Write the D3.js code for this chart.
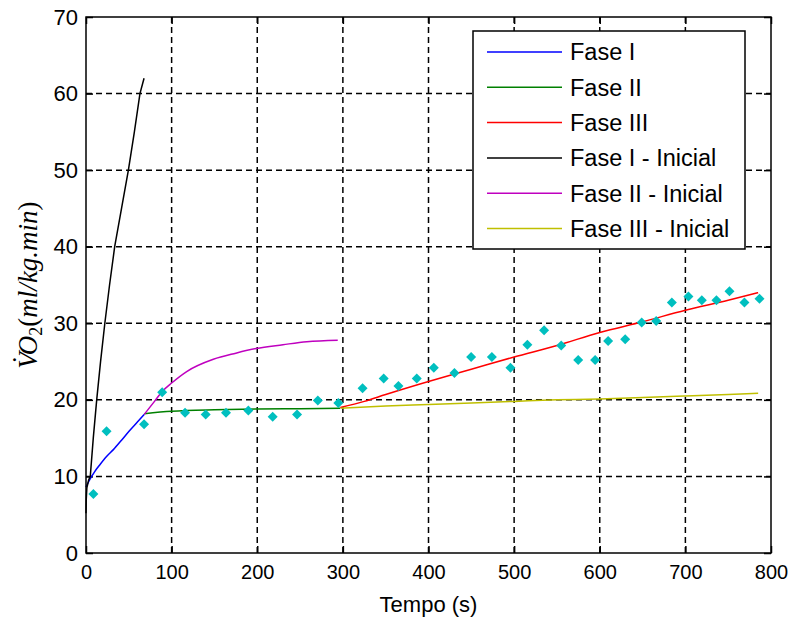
<!DOCTYPE html>
<html>
<head>
<meta charset="utf-8">
<script src="https://cdn.jsdelivr.net/npm/d3@7"></script>
<style>
	body { margin: 0; background: #fff; }
	text { font-family: Arial, "Liberation Sans", sans-serif; }
</style>
</head>
<body>
<svg id="chart"></svg>
<script>
// measured points (cyan diamonds)
let medidasT = [8.6, 24, 67.8, 89, 115.7, 139.8, 163.5, 189.6, 218, 246.5, 270.7, 294.7, 323, 347.7, 364.9, 386.3, 406.2, 430.3, 449.8, 474, 495.7, 515.5, 535, 555, 574.8, 594.6, 609.8, 629.7, 649, 665.9, 684.2, 703.6, 719.2, 736.3, 751.5, 769, 786.6];
let medidasV = [7.7, 15.9, 16.8, 21.0, 18.3, 18.1, 18.3, 18.6, 17.8, 18.1, 19.9, 19.6, 21.5, 22.8, 21.8, 22.8, 24.2, 23.5, 25.6, 25.6, 24.2, 27.2, 29.1, 27.1, 25.2, 25.2, 27.7, 27.9, 30.1, 30.3, 32.7, 33.5, 33.0, 33.0, 34.2, 32.7, 33.2];

// fitted curves [tempo, VO2]
let faseI = [[0, 8.6], [5, 9.7], [10, 10.6], [16, 11.5], [24, 12.6], [32, 13.5], [42, 14.8], [51, 16.0], [60, 17.1], [68, 18.1]];
let faseII = [[68, 18.2], [100, 18.5], [150, 18.7], [200, 18.8], [250, 18.85], [297, 18.9]];
let faseIII = [[297, 19.0], [325, 19.8], [350, 20.7], [400, 22.4], [450, 24.0], [500, 25.6], [550, 27.1], [600, 28.8], [650, 30.2], [700, 31.7], [750, 33.0], [785, 34.0]];
let faseIInicial = [[0, 5.2], [0.3, 7], [1, 8.5], [3, 9.5], [5, 10], [8.5, 15], [12.5, 20], [17, 25], [22, 30], [27.5, 35], [33.5, 40], [41.5, 45], [49.5, 50], [56.5, 55], [63, 60], [67.8, 62]];
let faseIIInicial = [[68, 18.1], [80, 19.8], [89, 21.1], [100, 22.2], [117.6, 23.7], [148.7, 25.3], [175, 26.1], [198.6, 26.7], [230, 27.2], [257.8, 27.6], [294, 27.8]];
let faseIIIInicial = [[298, 18.9], [350, 19.2], [400, 19.4], [450, 19.6], [500, 19.8], [550, 20.0], [600, 20.1], [650, 20.3], [700, 20.5], [750, 20.7], [785, 20.85]];

let legendLabels = ["Fase I", "Fase II", "Fase III", "Fase I - Inicial", "Fase II - Inicial", "Fase III - Inicial"];
let xTicks = [0, 100, 200, 300, 400, 500, 600, 700, 800];
let yTicks = [0, 10, 20, 30, 40, 50, 60, 70];

let svgWidth = 795, svgHeight = 623;
let margin = { top: 17, right: 24, bottom: 70, left: 86 };
let width = svgWidth - margin.left - margin.right;
let height = svgHeight - margin.top - margin.bottom;

let svg = d3.select("#chart")
	.attr("width", svgWidth)
	.attr("height", svgHeight);

let g = svg.append("g")
	.attr("transform", "translate(" + margin.left + "," + margin.top + ")");

//scales
let x = d3.scaleLinear().domain([0, 800]).range([0, width]);
let y = d3.scaleLinear().domain([0, 70]).range([height, 0]);

g.append("rect")
	.attr("width", width)
	.attr("height", height)
	.attr("fill", "#fff");

//grid
g.append("g")
	.selectAll("line")
	.data(xTicks.slice(1, -1))
	.enter()
	.append("line")
	.attr("x1", d => x(d)).attr("x2", d => x(d))
	.attr("y1", 0).attr("y2", height)
	.attr("stroke", "#000")
	.attr("stroke-width", 1.5)
	.attr("stroke-dasharray", "6,4");

g.append("g")
	.selectAll("line")
	.data(yTicks.slice(1, -1))
	.enter()
	.append("line")
	.attr("x1", 0).attr("x2", width)
	.attr("y1", d => y(d)).attr("y2", d => y(d))
	.attr("stroke", "#000")
	.attr("stroke-width", 1.5)
	.attr("stroke-dasharray", "6,4");

//axes, ticks pointing inward on all sides
let axisStyle = function (size)
{
	return function (sel)
	{
		sel.select(".domain").remove();
		sel.selectAll("line").attr("stroke", "#000").attr("stroke-width", 1.5);
		sel.selectAll("text").attr("fill", "#000").attr("font-size", size);
	}
}

g.append("g")
	.attr("transform", "translate(0," + height + ")")
	.call(d3.axisBottom(x).tickValues(xTicks).tickSizeInner(-7).tickSizeOuter(0).tickPadding(12))
	.call(axisStyle(20));

g.append("g")
	.call(d3.axisTop(x).tickValues(xTicks).tickSizeInner(-7).tickSizeOuter(0).tickFormat(""))
	.call(axisStyle(20));

g.append("g")
	.call(d3.axisLeft(y).tickValues(yTicks).tickSizeInner(-7).tickSizeOuter(0).tickPadding(8))
	.call(axisStyle(22));

g.append("g")
	.attr("transform", "translate(" + width + ",0)")
	.call(d3.axisRight(y).tickValues(yTicks).tickSizeInner(-7).tickSizeOuter(0).tickFormat(""))
	.call(axisStyle(20));

//curves
let line = d3.line()
	.x(d => x(d[0]))
	.y(d => y(d[1]))
	.curve(d3.curveMonotoneX);

let series = [
	{ data: faseI, color: "#0000ff" },
	{ data: faseII, color: "#008000" },
	{ data: faseIII, color: "#ff0000" },
	{ data: faseIInicial, color: "#000000" },
	{ data: faseIIInicial, color: "#bf00bf" },
	{ data: faseIIIInicial, color: "#bfbf00" }
];

for (let i = 0; i < series.length; i++)
{
	g.append("path")
		.datum(series[i].data)
		.attr("fill", "none")
		.attr("stroke", series[i].color)
		.attr("stroke-width", 1.5)
		.attr("d", i == 3 ? d3.line().x(d => x(d[0])).y(d => y(d[1])) : line);
}

//measured points
g.append("g")
	.selectAll("path")
	.data(medidasT)
	.enter()
	.append("path")
	.attr("transform", (d, i) => "translate(" + x(d) + "," + y(medidasV[i]) + ")")
	.attr("d", "M0,-5L5,0L0,5L-5,0Z")
	.attr("fill", "#00bfbf");

//frame
g.append("rect")
	.attr("width", width)
	.attr("height", height)
	.attr("fill", "none")
	.attr("stroke", "#000")
	.attr("stroke-width", 1.5);

//legend
let legend = svg.append("g")
	.attr("transform", "translate(473,31)");

legend.append("rect")
	.attr("width", 272)
	.attr("height", 218)
	.attr("fill", "#fff")
	.attr("stroke", "#000")
	.attr("stroke-width", 1.5);

for (let i = 0; i < legendLabels.length; i++)
{
	let row = legend.append("g").attr("transform", "translate(0," + (21 + i * 35.3) + ")");
	row.append("line")
		.attr("x1", 14).attr("x2", 89)
		.attr("stroke", series[i].color)
		.attr("stroke-width", 1.5);
	row.append("text")
		.attr("x", 97)
		.attr("dy", "0.36em")
		.attr("font-size", 23.5)
		.attr("fill", "#000")
		.text(legendLabels[i]);
}

//axis labels
svg.append("text")
	.attr("x", margin.left + width / 2)
	.attr("y", 612)
	.attr("text-anchor", "middle")
	.attr("font-size", 22)
	.attr("fill", "#000")
	.text("Tempo (s)");

let yl = svg.append("text")
	.attr("transform", "translate(37," + (margin.top + height / 2) + ") rotate(-90)")
	.attr("text-anchor", "middle")
	.attr("font-size", 27)
	.attr("fill", "#000")
	.style("font-family", "'Liberation Serif', 'DejaVu Serif', serif");
yl.append("tspan").attr("font-style", "italic").text("V");
yl.append("tspan").attr("dx", -12).attr("dy", -6).text("\u02D9");
yl.append("tspan").attr("font-style", "italic").attr("dx", 0).attr("dy", 6).text("O");
yl.append("tspan").attr("font-size", 18).attr("dy", 5).text("2");
yl.append("tspan").attr("dy", -5).text("(");
yl.append("tspan").attr("font-style", "italic").text("ml/kg.min");
yl.append("tspan").text(")");
</script>
</body>
</html>
